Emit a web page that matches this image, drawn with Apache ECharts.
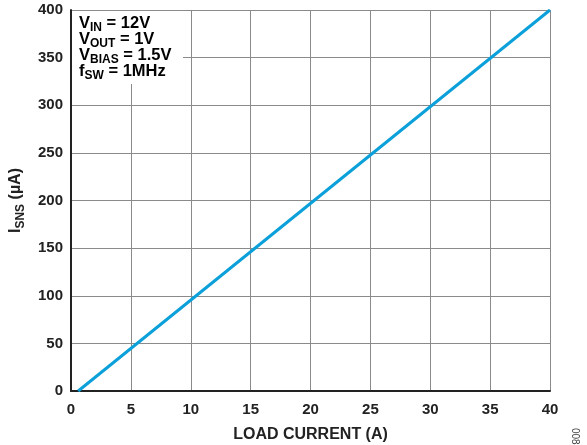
<!DOCTYPE html>
<html>
<head>
<meta charset="utf-8">
<script src="https://cdn.jsdelivr.net/npm/echarts@6/dist/echarts.min.js"></script>
<style>
  html, body { margin: 0; padding: 0; background: #fff; }
  #chart { width: 587px; height: 445px; }
</style>
</head>
<body>
<div id="chart"></div>
<script>
// Sense current versus load current
const loadCurrent = [0.6, 40];   // A
const senseCurrent = [0, 400];   // µA
const xTicks = [0, 5, 10, 15, 20, 25, 30, 35, 40];
const yTicks = [0, 50, 100, 150, 200, 250, 300, 350, 400];

const FONT = '"Liberation Sans", Arial, sans-serif';
const INK = '#222';
const chart = echarts.init(document.getElementById('chart'), null, { renderer: 'canvas' });

const main = { fontFamily: FONT, fontWeight: 'bold', fontSize: 16.5, color: INK, verticalAlign: 'top', lineHeight: 16 };
const sub = { fontFamily: FONT, fontWeight: 'bold', fontSize: 12, color: INK, verticalAlign: 'top', padding: [7, 0, 0, 0], lineHeight: 16 };

chart.setOption({
  animation: false,
  backgroundColor: '#fff',
  grid: { left: 71, right: 37, top: 10, bottom: 54, containLabel: false, outerBoundsMode: 'none' },
  xAxis: {
    type: 'value', min: xTicks[0], max: xTicks[xTicks.length - 1], interval: 5,
    name: 'LOAD CURRENT (A)', nameLocation: 'middle', nameGap: 36,
    nameTextStyle: { fontFamily: FONT, fontWeight: 'bold', fontSize: 16, color: INK },
    axisLine: { lineStyle: { color: INK, width: 2 } },
    axisTick: { show: false },
    axisLabel: { fontFamily: FONT, fontWeight: 'bold', fontSize: 15, color: INK, margin: 11 },
    splitLine: { show: true, lineStyle: { color: '#8a8a8a', width: 1 } }
  },
  yAxis: {
    type: 'value', min: yTicks[0], max: yTicks[yTicks.length - 1], interval: 50,
    name: '{m|I}{s|SNS}{m| (µA)}', nameLocation: 'middle', nameGap: 39, nameRotate: 90,
    nameTextStyle: {
      rich: {
        m: { fontFamily: FONT, fontWeight: 'bold', fontSize: 16, color: INK, verticalAlign: 'top', lineHeight: 16 },
        s: { fontFamily: FONT, fontWeight: 'bold', fontSize: 12, color: INK, verticalAlign: 'top', padding: [7, 0, 0, 0], lineHeight: 16 }
      }
    },
    axisLine: { show: true, lineStyle: { color: INK, width: 2 } },
    axisTick: { show: false },
    axisLabel: { fontFamily: FONT, fontWeight: 'bold', fontSize: 15, color: INK, margin: 8 },
    splitLine: { show: true, lineStyle: { color: '#8a8a8a', width: 1 } }
  },
  graphic: [
    {
      type: 'rect', left: 72, top: 11, z: 10,
      shape: { width: 111, height: 73 },
      style: { fill: '#fff' }
    },
    {
      type: 'text', left: 79, top: 15, z: 11,
      style: {
        text: '{m|V}{s|IN}{m| = 12V}\n{m|V}{s|OUT}{m| = 1V}\n{m|V}{s|BIAS}{m| = 1.5V}\n{m|f}{s|SW}{m| = 1MHz}',
        rich: { m: main, s: sub }
      }
    },
    {
      type: 'text', left: 570, top: 428, z: 11, rotation: -Math.PI / 2,
      style: { text: '008', fontFamily: FONT, fontSize: 10, fill: '#444' }
    }
  ],
  series: [{
    type: 'line',
    data: loadCurrent.map((x, i) => [x, senseCurrent[i]]),
    showSymbol: false,
    lineStyle: { color: '#0ba0d9', width: 3 },
    z: 5
  }]
});
</script>
</body>
</html>
